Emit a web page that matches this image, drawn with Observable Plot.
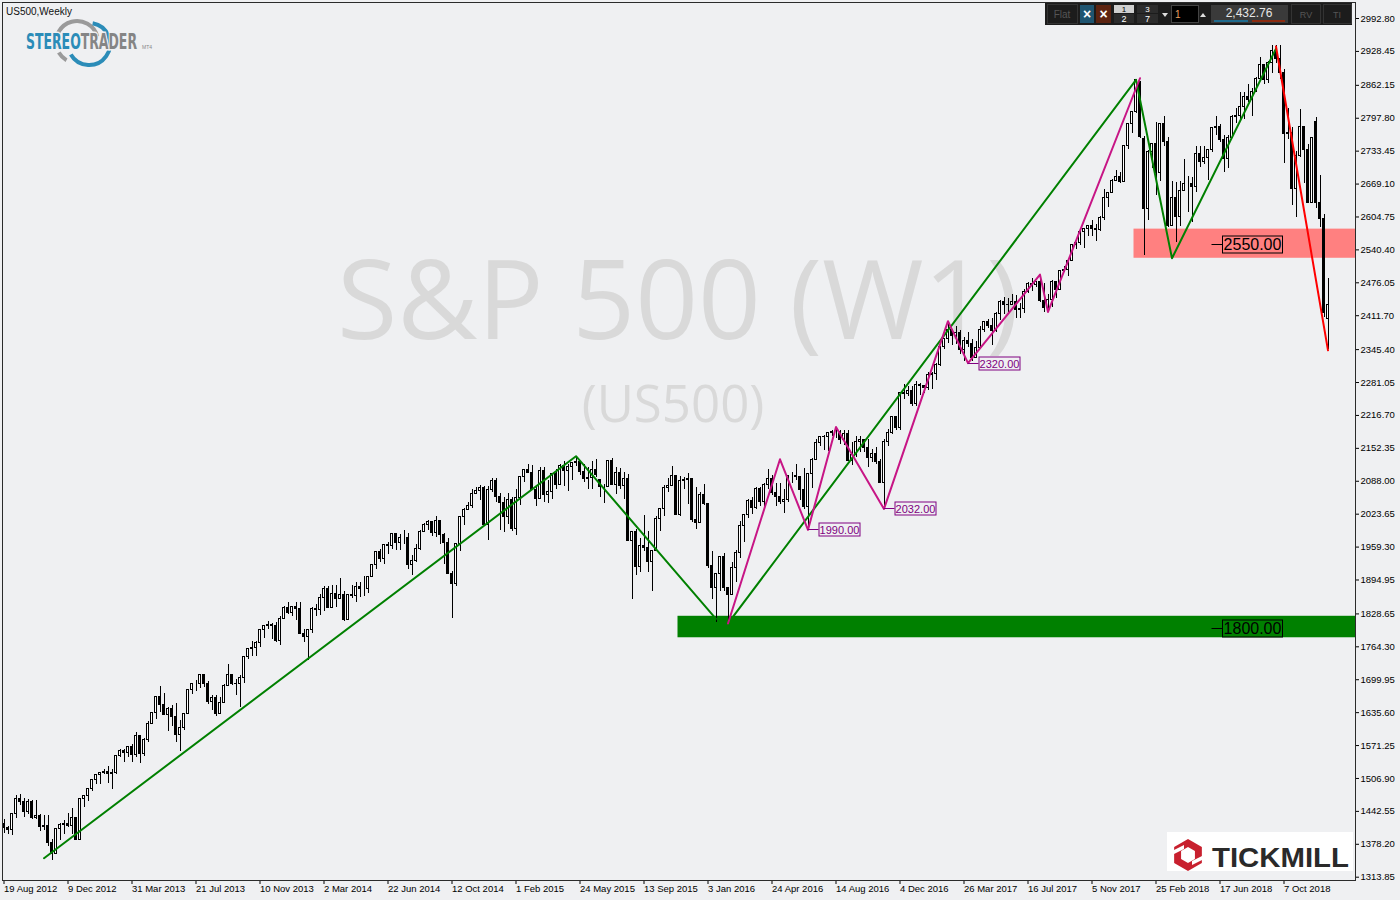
<!DOCTYPE html>
<html><head><meta charset="utf-8">
<script src="https://cdn.jsdelivr.net/npm/d3@7"></script>
<script src="https://cdn.jsdelivr.net/npm/@observablehq/plot@0.6"></script>
<style>
html,body{margin:0;padding:0;background:#eff0f2;}
#wrap{position:relative;width:1400px;height:900px;overflow:hidden;}
</style>
</head><body><div id="wrap"></div>
<script>
// ---------- DATA ----------
// weekly candles, US500 (week 0 = 19 Aug 2012)
const opens = [
1418,1411,1407,1438,1466,1460,1441,1461,1429,1433,
1412,1414,1380,1360,1409,1416,1418,1414,1430,1386,
1466,1472,1486,1503,1513,1518,1520,1516,1518,1551,
1561,1557,1569,1553,1589,1555,1582,1614,1634,1667,
1650,1631,1643,1627,1592,1606,1632,1680,1692,1692,
1710,1691,1656,1664,1633,1655,1688,1710,1692,1691,
1703,1745,1760,1762,1771,1798,1805,1806,1805,1775,
1818,1841,1831,1842,1839,1790,1783,1797,1839,1836,
1859,1878,1841,1867,1858,1865,1816,1865,1863,1881,
1878,1878,1901,1924,1949,1936,1963,1961,1985,1968,
1978,1978,1925,1932,1955,1988,2003,2008,1986,2010,
1983,1968,1906,1887,1965,2018,2032,2040,2064,2068,
2075,2002,2071,2089,2058,2045,2019,2052,1995,2055,
2097,2110,2105,2071,2053,2108,2061,2067,2102,2081,
2118,2108,2116,2123,2126,2107,2093,2094,2110,2090,
2077,2077,2127,2080,2104,2078,2092,1971,1989,1921,
1961,1958,1931,1951,2015,2033,2075,2079,2099,2023,
2089,2090,2092,2012,2006,2061,2044,1922,1880,1907,
1940,1880,1865,1918,1948,2000,2022,2050,2036,2073,
2048,2081,2092,2065,2057,2047,2052,2099,2099,2096,
2071,2037,2103,2130,2162,2175,2174,2183,2184,2184,
2169,2180,2128,2139,2165,2168,2154,2133,2141,2126,
2085,2164,2182,2213,2192,2260,2258,2264,2239,2277,
2275,2271,2295,2297,2316,2351,2367,2383,2373,2378,
2344,2363,2356,2329,2349,2384,2399,2391,2382,2416,
2439,2432,2433,2438,2423,2425,2459,2473,2472,2477,
2441,2426,2443,2477,2461,2500,2502,2519,2549,2553,
2575,2581,2588,2582,2579,2602,2642,2652,2676,2683,
2674,2743,2786,2810,2868,2757,2620,2732,2747,2691,
2787,2752,2588,2641,2604,2656,2670,2670,2663,2728,
2713,2721,2735,2779,2780,2755,2718,2760,2801,2802,
2819,2840,2833,2850,2875,2902,2872,2905,2930,2914,
2886,2767,2768,2659,2723,2781,2736,2633,2790,2633,
2600,2405];
const highs = [
1427,1413,1438,1474,1475,1467,1465,1463,1464,1436,
1434,1434,1388,1409,1419,1424,1439,1448,1431,1467,
1472,1486,1503,1514,1518,1525,1530,1525,1552,1564,
1564,1570,1574,1597,1589,1585,1618,1636,1667,1687,
1674,1646,1649,1654,1620,1632,1680,1693,1698,1710,
1710,1696,1670,1669,1665,1690,1730,1711,1700,1708,
1745,1760,1775,1774,1799,1805,1813,1810,1811,1823,
1844,1850,1843,1851,1850,1798,1798,1841,1847,1867,
1883,1882,1884,1884,1897,1872,1865,1884,1891,1890,
1902,1901,1925,1950,1955,1964,1968,1986,1985,1984,
1991,1985,1943,1964,1992,2006,2012,2008,2019,2010,
1986,1977,1912,1966,2018,2034,2046,2071,2076,2079,
2078,2077,2094,2093,2065,2057,2064,2057,2072,2097,
2111,2120,2118,2080,2114,2115,2089,2103,2111,2120,
2126,2121,2123,2135,2127,2121,2115,2127,2130,2091,
2082,2129,2133,2114,2113,2105,2102,1989,1993,1976,
2021,1990,1952,2020,2034,2080,2094,2116,2100,2097,
2095,2104,2094,2076,2067,2082,2044,1950,1908,1940,
1947,1881,1930,1952,2009,2022,2053,2056,2075,2075,
2084,2111,2099,2084,2084,2071,2100,2105,2121,2097,
2113,2103,2132,2169,2176,2178,2183,2188,2194,2187,
2187,2187,2163,2175,2175,2168,2169,2150,2154,2131,
2169,2189,2214,2214,2260,2278,2273,2273,2283,2280,
2276,2301,2300,2319,2352,2368,2401,2383,2390,2382,
2370,2378,2365,2362,2391,2400,2404,2406,2418,2441,
2447,2446,2454,2451,2435,2463,2477,2484,2478,2491,
2475,2454,2481,2477,2500,2508,2520,2550,2555,2575,
2582,2589,2598,2590,2605,2658,2652,2679,2695,2692,
2743,2787,2810,2873,2870,2763,2734,2748,2790,2787,
2802,2761,2675,2673,2675,2718,2683,2682,2742,2743,
2742,2736,2779,2801,2786,2764,2764,2804,2816,2849,
2848,2863,2855,2877,2916,2902,2908,2941,2940,2940,
2894,2817,2779,2733,2815,2781,2747,2760,2800,2685,
2610,2484];
const lows = [
1400,1398,1396,1428,1455,1431,1437,1426,1426,1403,
1406,1373,1347,1358,1385,1398,1411,1398,1385,1385,
1451,1461,1482,1496,1495,1514,1497,1485,1514,1548,
1539,1548,1539,1548,1536,1550,1577,1614,1622,1636,
1630,1598,1608,1577,1560,1601,1631,1672,1676,1682,
1684,1652,1640,1628,1633,1655,1687,1688,1670,1646,
1692,1740,1746,1746,1763,1780,1799,1779,1772,1767,
1818,1827,1823,1815,1790,1772,1738,1791,1824,1825,
1834,1840,1840,1842,1857,1814,1815,1859,1851,1860,
1862,1868,1900,1916,1930,1925,1944,1955,1953,1952,
1965,1916,1904,1929,1953,1987,1991,1980,1978,1965,
1926,1906,1820,1883,1950,2001,2031,2034,2062,2050,
2002,1973,2067,2046,1992,1988,2004,1989,1981,2041,
2086,2103,2070,2039,2053,2046,2045,2053,2072,2079,
2077,2068,2089,2116,2099,2085,2072,2072,2096,2056,
2045,2077,2079,2063,2071,2052,1970,1857,1903,1910,
1951,1909,1872,1951,1990,2019,2066,2077,2022,2019,
2071,2042,2008,1993,2005,2040,1918,1857,1812,1872,
1872,1810,1865,1891,1937,1969,2015,2023,2032,2039,
2039,2072,2061,2039,2043,2025,2047,2084,2090,2050,
2032,1991,2074,2128,2155,2148,2147,2175,2172,2160,
2157,2127,2119,2134,2145,2145,2115,2124,2120,2084,
2032,2156,2179,2187,2188,2248,2253,2234,2234,2255,
2259,2266,2267,2285,2313,2345,2358,2354,2356,2335,
2322,2349,2322,2328,2349,2379,2387,2353,2379,2403,
2415,2418,2431,2406,2407,2416,2455,2459,2467,2437,
2418,2417,2428,2446,2461,2497,2488,2519,2542,2548,
2544,2566,2566,2557,2576,2598,2624,2651,2676,2671,
2674,2737,2768,2808,2759,2529,2597,2700,2647,2675,
2742,2585,2587,2554,2586,2656,2613,2594,2652,2702,
2707,2676,2731,2764,2750,2692,2699,2760,2787,2795,
2795,2828,2802,2848,2874,2864,2865,2886,2904,2874,
2710,2756,2628,2603,2722,2671,2631,2633,2621,2584,
2409,2345];
const closes = [
1411,1407,1438,1466,1460,1441,1461,1429,1433,1412,
1414,1380,1360,1409,1416,1418,1414,1430,1386,1466,
1472,1486,1503,1513,1518,1520,1516,1518,1551,1561,
1557,1569,1553,1589,1555,1582,1614,1634,1667,1650,
1631,1643,1627,1592,1606,1632,1680,1692,1692,1710,
1691,1656,1664,1633,1655,1688,1710,1692,1691,1703,
1745,1760,1762,1771,1798,1805,1806,1805,1775,1818,
1841,1831,1842,1839,1790,1783,1797,1839,1836,1859,
1878,1841,1867,1858,1865,1816,1865,1863,1881,1878,
1878,1901,1924,1949,1936,1963,1961,1985,1968,1978,
1978,1925,1932,1955,1988,2003,2008,1986,2010,1983,
1968,1906,1887,1965,2018,2032,2040,2064,2068,2075,
2002,2071,2089,2058,2045,2019,2052,1995,2055,2097,
2110,2105,2071,2053,2108,2061,2067,2102,2081,2118,
2108,2116,2123,2126,2107,2093,2094,2110,2101,2077,
2077,2127,2080,2104,2078,2092,1971,1989,1921,1961,
1958,1931,1951,2015,2033,2075,2079,2099,2023,2089,
2090,2092,2012,2006,2061,2044,1922,1880,1907,1940,
1880,1865,1918,1948,2000,2022,2050,2036,2073,2048,
2081,2092,2065,2057,2047,2052,2099,2099,2096,2071,
2037,2103,2130,2162,2175,2174,2183,2184,2184,2169,
2180,2128,2139,2165,2168,2154,2133,2141,2126,2085,
2164,2182,2213,2192,2260,2258,2264,2239,2277,2275,
2271,2295,2297,2316,2351,2367,2383,2373,2378,2344,
2363,2356,2329,2349,2384,2399,2391,2382,2416,2439,
2432,2433,2438,2423,2425,2459,2473,2472,2477,2441,
2426,2443,2477,2461,2500,2502,2519,2549,2553,2575,
2581,2588,2582,2579,2602,2642,2652,2676,2683,2674,
2743,2786,2810,2873,2762,2620,2732,2747,2691,2787,
2752,2588,2641,2604,2656,2670,2670,2663,2728,2713,
2721,2735,2779,2780,2755,2718,2760,2801,2802,2819,
2840,2833,2850,2875,2902,2872,2905,2930,2914,2886,
2767,2768,2659,2723,2781,2736,2633,2760,2633,2600,
2417,2433];

// x-axis tick labels (every 16 weeks)
const xTickWeeks = [0,16,32,48,64,80,96,112,128,144,160,176,192,208,224,240,256,272,288,304,320];
const xTickLabels = ["19 Aug 2012","9 Dec 2012","31 Mar 2013","21 Jul 2013","10 Nov 2013","2 Mar 2014","22 Jun 2014","12 Oct 2014","1 Feb 2015","24 May 2015","13 Sep 2015","3 Jan 2016","24 Apr 2016","14 Aug 2016","4 Dec 2016","26 Mar 2017","16 Jul 2017","5 Nov 2017","25 Feb 2018","17 Jun 2018","7 Oct 2018"];
// y-axis tick labels
const yTicks = [2992.80,2928.45,2862.15,2797.80,2733.45,2669.10,2604.75,2540.40,2476.05,2411.70,2345.40,2281.05,2216.70,2152.35,2088.00,2023.65,1959.30,1894.95,1828.65,1764.30,1699.95,1635.60,1571.25,1506.90,1442.55,1378.20,1313.85];

// drawn trend / swing lines: [week, price]
const greenSwing1 = [[10,1351],[143,2137],[178,1819]];
const greenSwing2 = [[181,1810],[283,2873],[292,2524],[318,2934]];
const magentaSwing = [[181,1810],[194,2131],[201,1993],[208,2194],[220,2034],[236,2401],[241,2319],[259,2492],[261,2419],[284,2876]];
const redSwing = [[318,2938],[331,2344]];

// labelled swing lows
const pivotWeek = [201,220,241];
const pivotPrice = [1993,2034,2319];
const pivotText = ["1990.00","2032.00","2320.00"];

// support / resistance zones
const zoneStart = [169,283];
const zoneLevel = [1800,2550];
const zoneLow = [1782,2524];
const zoneHigh = [1824,2581];
const zoneText = ["1800.00","2550.00"];

const priceNow = "2,432.76";

// ---------- BUILD ----------
const BG = "#eff0f2";
const candles = closes.map((c,i)=>({i, o:opens[i], h:highs[i], l:lows[i], c}));
const toPts = (arr, seg) => arr.map(([i,v])=>({i, v, seg}));
const greenPts = [...toPts(greenSwing1,"a"), ...toPts(greenSwing2,"b")];
const magentaPts = toPts(magentaSwing,"m");
const redPts = toPts(redSwing,"r");
const xDomain = [-0.375, 337.875];
const zones = zoneStart.map((s,k)=>({k, x1:s-0.5, x2:xDomain[1], lo:zoneLow[k], hi:zoneHigh[k], level:zoneLevel[k], text:zoneText[k]}));
const zoneColors = ["#008000","#ff8080"];

const chart = Plot.plot({
  width: 1400, height: 900,
  marginLeft: 2, marginRight: 45, marginTop: 2, marginBottom: 20,
  style: {background: BG, fontFamily: "Liberation Sans, Arial, sans-serif", fontSize: "9.5px", color: "#000", overflow: "visible"},
  x: {domain: xDomain},
  y: {domain: [1307.4, 3024.1]},
  marks: [
    Plot.text(["S&P 500 (W1)"], {text: d=>d, frameAnchor: "middle", dx: -1, dy: -138, fontSize: 110, fill: "#d9d9d9", fontFamily: "Open Sans"}),
    Plot.text(["(US500)"], {text: d=>d, frameAnchor: "middle", dx: -6, dy: -36, fontSize: 51, fill: "#d9d9d9", fontFamily: "Open Sans"}),
    Plot.rect(zones, {x1: "x1", x2: "x2", y1: "lo", y2: "hi", fill: d=>zoneColors[d.k]}),
    Plot.ruleX(candles, {x: "i", y1: "l", y2: "h", stroke: "#000", strokeWidth: 1, shapeRendering: "crispEdges"}),
    Plot.rect(candles, {x1: d=>d.i-0.25, x2: d=>d.i+0.25, y1: "o", y2: "c", fill: d=>d.c>=d.o?"#ffffff":"#000000", stroke: "#000", strokeWidth: 1, shapeRendering: "crispEdges"}),
    Plot.line(greenPts, {x: "i", y: "v", z: "seg", stroke: "#008000", strokeWidth: 2}),
    Plot.line(magentaPts, {x: "i", y: "v", z: "seg", stroke: "#c71585", strokeWidth: 2}),
    Plot.line(redPts, {x: "i", y: "v", z: "seg", stroke: "#ff0000", strokeWidth: 2}),
    Plot.axisX({anchor: "bottom", ticks: xTickWeeks, tickFormat: d=>xTickLabels[xTickWeeks.indexOf(d)], textAnchor: "start", dx: 0, tickSize: 4, tickPadding: 1, label: null}),
    Plot.axisY({anchor: "right", ticks: yTicks, tickFormat: d=>d.toFixed(2), tickSize: 3, tickPadding: 2, label: null}),
    Plot.frame({stroke: "#2b2b2b"})
  ]
});
document.getElementById("wrap").appendChild(chart);

const svg = d3.select(chart);
const xs = chart.scale("x"), ys = chart.scale("y");
const NS = svg.append("g").attr("text-anchor","start");

// swing low labels
pivotWeek.forEach((w,k)=>{
  const px = xs.apply(w), py = Math.round(ys.apply(pivotPrice[k])) + 0.5;
  NS.append("line").attr("x1",px).attr("x2",px+11).attr("y1",py).attr("y2",py).attr("stroke","#800080");
  NS.append("rect").attr("x",px+11.5).attr("y",py-6.5).attr("width",41).attr("height",13).attr("fill","none").attr("stroke","#800080");
  NS.append("text").attr("x",px+32).attr("y",py+4).attr("text-anchor","middle").attr("font-size",11).attr("fill","#800080").attr("font-family","Liberation Sans, Arial").text(pivotText[k]);
});
// zone labels
zones.forEach(z=>{
  const py = Math.round(ys.apply(z.level)) + 0.5;
  const bx = 1222.5;
  NS.append("line").attr("x1",bx-11).attr("x2",bx).attr("y1",py).attr("y2",py).attr("stroke","#000");
  NS.append("rect").attr("x",bx).attr("y",py-8.5).attr("width",60).attr("height",17).attr("fill","none").attr("stroke","#000");
  NS.append("text").attr("x",bx+30).attr("y",py+5.5).attr("text-anchor","middle").attr("font-size",16).attr("fill","#000").attr("font-family","Liberation Sans, Arial").text(z.text);
});

// top-left symbol
NS.append("text").attr("x",6).attr("y",15).attr("text-anchor","start").attr("font-size",10).attr("fill","#111").attr("font-family","Liberation Sans, Arial").text("US500,Weekly");

// StereoTrader logo
const logo = NS.append("g");
const arc = (cx,cy,r,a0,a1)=>{ const p=d3.path(); p.arc(cx,cy,r,a0*Math.PI/180,a1*Math.PI/180,false); return p.toString(); };
logo.append("path").attr("d",arc(77,42,21,165,345)).attr("fill","none").attr("stroke","#9a9a9a").attr("stroke-width",4);
logo.append("path").attr("d",arc(77,42,21,120,150)).attr("fill","none").attr("stroke","#9a9a9a").attr("stroke-width",4);
logo.append("path").attr("d",arc(89,44,21,-80,150)).attr("fill","none").attr("stroke","#2b8cb8").attr("stroke-width",4);
const lt = logo.append("text").attr("x",26).attr("y",49).attr("text-anchor","start").attr("font-size",21).attr("font-weight","bold").attr("font-family","DejaVu Sans Condensed, Liberation Sans")
  .attr("textLength",111).attr("lengthAdjust","spacingAndGlyphs").attr("stroke",BG).attr("stroke-width",3).attr("paint-order","stroke");
lt.append("tspan").attr("fill","#2b8cb8").text("STEREO");
lt.append("tspan").attr("fill","#858585").text("TRADER");
logo.append("text").attr("x",142).attr("y",49).attr("text-anchor","start").attr("font-size",5).attr("fill","#888").attr("font-family","Liberation Sans").text("MT4");

// toolbar
const tb = NS.append("g").attr("font-family","Liberation Sans, Arial");
tb.append("rect").attr("x",1045).attr("y",3).attr("width",307).attr("height",22).attr("fill","#1c1c1c");
const box=(x,y,w,h,fill,stroke)=>tb.append("rect").attr("x",x).attr("y",y).attr("width",w).attr("height",h).attr("fill",fill).attr("stroke",stroke||"none");
const txt=(x,y,s,t,fill,anchor,weight)=>tb.append("text").attr("x",x).attr("y",y).attr("font-size",s).attr("fill",fill).attr("text-anchor",anchor||"middle").attr("font-weight",weight||"normal").text(t);
box(1047.5,4.5,30,19,"#1c1c1c","#333"); txt(1062,18,10,"Flat","#555");
box(1080,5,14,18,"#1e5470"); txt(1087,19,14,"×","#fff","middle","bold");
box(1096,5,15,18,"#5c2310"); txt(1103.5,19,14,"×","#fff","middle","bold");
box(1114,5,20,8,"#cfcfcf"); txt(1124,12,8,"1","#000");
box(1114,14,20,9,"#2c2c2c"); txt(1124,22,9,"2","#fff");
box(1137,5,21,8,"#2c2c2c"); txt(1147.5,12,8,"3","#fff");
box(1137,14,21,9,"#2c2c2c"); txt(1147.5,22,9,"7","#fff");
tb.append("path").attr("d","M1162,13 L1168,13 L1165,17 Z").attr("fill","#ddd");
box(1171.5,5.5,27,17,"#000","#444"); txt(1175,18,10,"1","#e8a060","start");
tb.append("path").attr("d","M1200,17 L1206,17 L1203,13 Z").attr("fill","#ddd");
box(1211,5,77,18,"#3a3a3a"); txt(1249,17,12,priceNow,"#e6e6e6");
box(1214,20,34,2,"#1f6b8e"); box(1252,20,33,2,"#8c2b10");
box(1291.5,4.5,29,19,"#1c1c1c","#333"); txt(1306,18,9,"RV","#555");
box(1323.5,4.5,28,19,"#1c1c1c","#333"); txt(1337,18,9,"TI","#555");

// Tickmill logo
const tm = NS.append("g");
tm.append("rect").attr("x",1167).attr("y",832).attr("width",186).attr("height",39).attr("fill","#fff");
const hex=(cx,cy,r)=>d3.range(6).map(k=>{const a=(k*60-90)*Math.PI/180;return [cx+r*Math.cos(a),cy+r*Math.sin(a)];});
const hp = pts=>"M"+pts.map(p=>p.join(",")).join("L")+"Z";
tm.append("path").attr("d",hp(hex(1188,855,16))+hp(hex(1188,855,8))).attr("fill","#c8202e").attr("fill-rule","evenodd");
tm.append("path").attr("d","M1172,851 L1184,845 L1184,849 L1172,855 Z M1204,859 L1192,865 L1192,861 L1204,855 Z").attr("fill","#fff");
tm.append("text").attr("x",1212).attr("y",867).attr("text-anchor","start").attr("font-size",27).attr("font-weight","bold").attr("font-family","Liberation Sans, Arial")
  .attr("textLength",137).attr("lengthAdjust","spacingAndGlyphs").attr("fill","#2a2a2a").text("TICKMILL");
</script>
</body></html>
